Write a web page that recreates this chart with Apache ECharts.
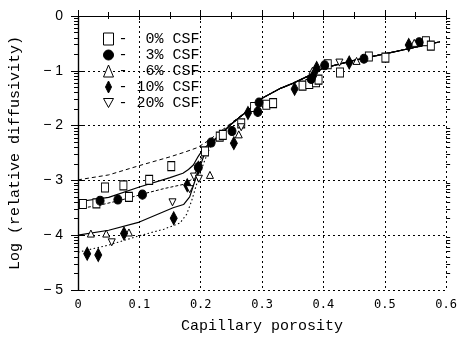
<!DOCTYPE html>
<html>
<head>
<meta charset="utf-8">
<style>
  html, body { margin: 0; padding: 0; background: #fff; }
  #chart { width: 460px; height: 339px; }
</style>
<script src="https://cdn.jsdelivr.net/npm/echarts@6/dist/echarts.min.js"></script>
</head>
<body>
<div id="chart"></div>
<script>
// measured points, [porosity, log diffusivity]
const csf0 = [[0.008,-3.43],[0.030,-3.42],[0.044,-3.13],[0.074,-3.09],[0.083,-3.30],[0.116,-2.99],[0.152,-2.74],
  [0.207,-2.47],[0.231,-2.20],[0.236,-2.17],[0.266,-1.96],[0.287,-1.66],[0.307,-1.62],[0.318,-1.59],[0.366,-1.27],
  [0.377,-1.24],[0.388,-1.21],[0.392,-1.16],[0.407,-0.88],[0.427,-1.03],[0.474,-0.74],[0.501,-0.76],[0.567,-0.46],[0.575,-0.54]];
const csf3 = [[0.036,-3.37],[0.065,-3.35],[0.105,-3.26],[0.196,-2.76],[0.217,-2.31],[0.251,-2.10],[0.293,-1.75],
  [0.295,-1.58],[0.380,-1.15],[0.402,-0.90],[0.466,-0.78],[0.556,-0.48]];
const csf6 = [[0.021,-3.97],[0.046,-3.97],[0.083,-3.95],[0.215,-2.90],[0.262,-2.16],[0.382,-1.00],[0.454,-0.82],[0.548,-0.49]];
const csf10 = [[0.015,-4.34],[0.033,-4.36],[0.075,-3.97],[0.156,-3.69],[0.178,-3.09],[0.196,-2.77],[0.254,-2.32],
  [0.277,-1.77],[0.353,-1.33],[0.383,-1.10],[0.389,-0.95],[0.442,-0.85],[0.539,-0.53]];
const csf20 = [[0.055,-4.13],[0.154,-3.40],[0.182,-3.16],[0.189,-2.93],[0.197,-2.97],[0.266,-2.03],[0.426,-0.85]];

// model curves: separate low-porosity heads, shared upper branch
const curveTail = [[0.22,-2.28],[0.23,-2.18],[0.25,-1.97],[0.27,-1.79],[0.30,-1.50],[0.33,-1.32],[0.35,-1.23],
  [0.38,-1.07],[0.40,-0.95],[0.45,-0.81],[0.50,-0.69],[0.55,-0.57],[0.59,-0.47]];
const solidHigh = [[0,-3.39],[0.05,-3.31],[0.10,-3.12],[0.15,-2.95],[0.171,-2.87],[0.180,-2.80],[0.188,-2.72],
  [0.196,-2.56],[0.204,-2.43],[0.212,-2.35]];
const dashHigh = [[0,-2.99],[0.05,-2.90],[0.10,-2.73],[0.15,-2.57],[0.175,-2.48],[0.195,-2.40],[0.21,-2.29],
  [0.225,-2.17],[0.25,-1.95],[0.27,-1.78]];
const dashMid = [[0,-3.52],[0.036,-3.45],[0.07,-3.36],[0.105,-3.25],[0.14,-3.15],[0.177,-3.06],[0.186,-2.97],
  [0.193,-2.82],[0.20,-2.62],[0.208,-2.45],[0.215,-2.34]];
const solidLow = [[0,-4.00],[0.05,-3.91],[0.10,-3.76],[0.155,-3.50],[0.172,-3.44],[0.182,-3.30],[0.190,-3.03],
  [0.198,-2.78],[0.205,-2.55],[0.213,-2.38]];
const dotLow = [[0,-4.31],[0.05,-4.18],[0.10,-4.01],[0.14,-3.89],[0.166,-3.78],[0.177,-3.62],[0.185,-3.38],
  [0.193,-3.08],[0.20,-2.84],[0.206,-2.65],[0.215,-2.40],[0.225,-2.24]];

const xTicks = [0, 0.1, 0.2, 0.3, 0.4, 0.5, 0.6];
const yTicks = [0, -1, -2, -3, -4, -5];

const withTail = (head) => head.concat(curveTail.filter(p => p[0] > head[head.length - 1][0]));

// log-style minor ticks inside each decade of the y axis
const logMinor = [];
yTicks.slice(1).forEach(n => {
  for (let k = 2; k <= 9; k++) logMinor.push(n + Math.log10(k));
});

const chart = echarts.init(document.getElementById('chart'));

const monoFont = '"Liberation Mono", "DejaVu Sans Mono", monospace';
const tickFont = '"DejaVu Sans Mono", monospace';

function curve(data, type, width) {
  return {
    type: 'line', data: withTail(data), showSymbol: false, silent: true, z: 1,
    lineStyle: {color: '#000', width: width, type: type}
  };
}

function points(name, data, symbol, size, filled) {
  return {
    name: name, type: 'scatter', data: data, symbol: symbol, symbolSize: size, z: 3,
    itemStyle: {color: filled ? '#000' : '#fff', borderColor: '#000', borderWidth: 1, opacity: 1}
  };
}

const diamond = 'path://M5,0 L10,10 L5,20 L0,10 Z';
const downTri = 'path://M0,0 L10,0 L5,9 Z';
const hollow = {color: '#fff', borderColor: '#000', borderWidth: 1, opacity: 1};
const solid = {color: '#000', borderColor: '#000', borderWidth: 1, opacity: 1};

const xBase = {
  type: 'value', min: 0, max: 0.6, interval: 0.1,
  axisLine: {show: true, lineStyle: {color: '#000', width: 1.2}},
  splitLine: {show: false}
};
const yBase = {
  type: 'value', min: -5, max: 0, interval: 1,
  axisLine: {show: true, lineStyle: {color: '#000', width: 1.2}},
  axisTick: {show: true, length: 7, lineStyle: {color: '#000'}},
  splitLine: {show: false}
};
const yMinor = {
  type: 'value', min: -5, max: 0, interval: 1,
  axisLine: {show: false},
  axisTick: {show: true, length: 4, customValues: logMinor, lineStyle: {color: '#000'}},
  axisLabel: {show: false},
  splitLine: {show: false}
};

chart.setOption({
  backgroundColor: '#fff',
  animation: false,
  grid: {left: 78, right: 13, top: 16, bottom: 44},
  legend: {
    orient: 'vertical', left: 98, top: 26, itemGap: 0, itemWidth: 10, itemHeight: 12,
    formatter: (n) => '- ' + (n.length < 7 ? ' ' : '') + n,
    textStyle: {fontFamily: monoFont, fontSize: 15, color: '#000', lineHeight: 16},
    data: [
      {name: '0% CSF', icon: 'rect', itemStyle: hollow},
      {name: '3% CSF', icon: 'circle', itemStyle: solid},
      {name: '6% CSF', icon: 'triangle', itemStyle: hollow},
      {name: '10% CSF', icon: diamond, itemStyle: solid},
      {name: '20% CSF', icon: downTri, itemStyle: hollow}
    ]
  },
  xAxis: [
    Object.assign({}, xBase, {
      position: 'bottom',
      name: 'Capillary porosity', nameLocation: 'middle', nameGap: 29,
      nameTextStyle: {fontFamily: monoFont, fontSize: 15, color: '#000'},
      axisTick: {show: true, inside: true, length: 6, lineStyle: {color: '#000'}},
      minorTick: {show: true, splitNumber: 2, length: 4, lineStyle: {color: '#000'}},
      axisLabel: {
        margin: 9, color: '#000', fontFamily: tickFont, fontSize: 12,
        formatter: (v) => xTicks.includes(+v.toFixed(1)) ? String(+v.toFixed(1)) : ''
      },
      splitLine: {show: true, lineStyle: {color: '#000', type: [2, 3], width: 1}}
    }),
    Object.assign({}, xBase, {
      position: 'top',
      axisTick: {show: true, inside: true, length: 4, lineStyle: {color: '#000'}},
      minorTick: {show: true, splitNumber: 2, length: 3, lineStyle: {color: '#000'}},
      axisLabel: {show: false}
    })
  ],
  yAxis: [
    Object.assign({}, yBase, {
      position: 'left',
      name: 'Log (relative diffusivity)', nameLocation: 'middle', nameGap: 55,
      nameTextStyle: {fontFamily: monoFont, fontSize: 15, color: '#000'},
      axisLabel: {
        margin: 15, color: '#000', fontFamily: '"Liberation Sans", Arial, sans-serif', fontSize: 14,
        formatter: (v) => yTicks.includes(v) ? (v === 0 ? '0' : '\u2212 ' + Math.abs(v)) : ''
      },
      splitLine: {show: true, lineStyle: {color: '#000', type: [2, 3], width: 1}}
    }),
    Object.assign({}, yBase, {position: 'right', axisLabel: {show: false}}),
    Object.assign({}, yMinor, {position: 'left'}),
    Object.assign({}, yMinor, {position: 'right'})
  ],
  series: [
    curve(solidHigh, 'solid', 1.2),
    curve(dashHigh, [4, 3], 1),
    curve(dashMid, [3, 2], 1),
    curve(solidLow, 'solid', 1.2),
    curve(dotLow, [1.5, 2.5], 1.1),
    points('0% CSF', csf0, 'rect', [7, 9], false),
    points('3% CSF', csf3, 'circle', [8, 9], true),
    points('6% CSF', csf6, 'triangle', 7, false),
    points('10% CSF', csf10, diamond, [7, 13], true),
    points('20% CSF', csf20, downTri, [7, 7], false)
  ]
});
</script>
</body>
</html>
